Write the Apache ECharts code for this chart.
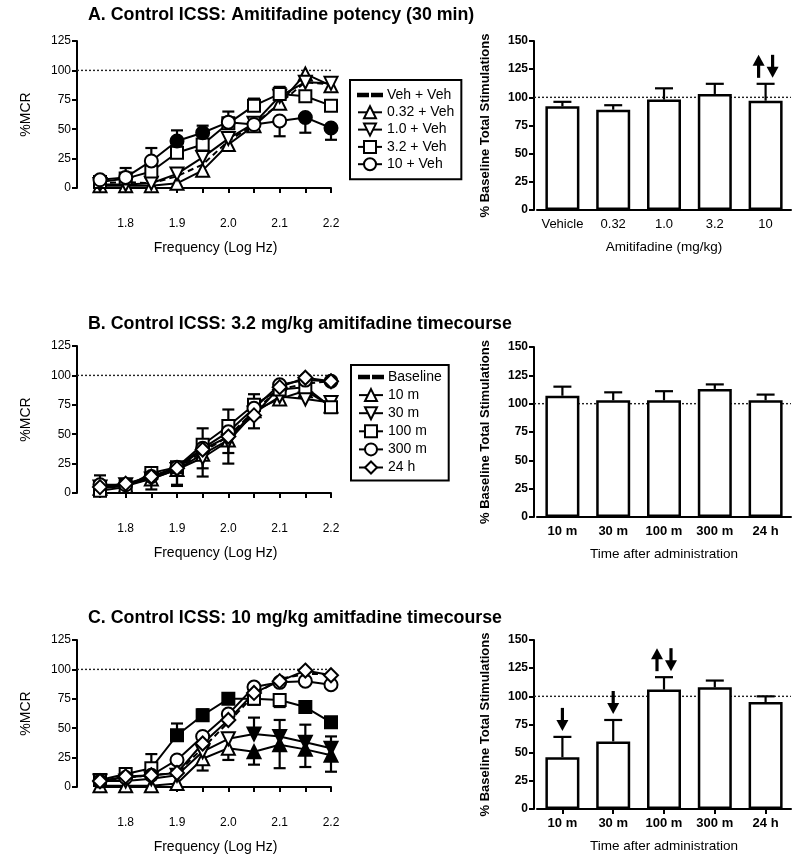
<!DOCTYPE html>
<html><head><meta charset="utf-8">
<script src="https://cdn.jsdelivr.net/npm/echarts@6/dist/echarts.min.js"></script>
<style>html,body{margin:0;padding:0;background:#fff}#c{width:800px;height:863px}</style>
</head><body><div id="c"></div>
<script>
// ---------------- DATA ----------------
const freqs = [1.75, 1.8, 1.85, 1.9, 1.95, 2.0, 2.05, 2.1, 2.15, 2.2];
const freqTickLabels = ['1.8', '1.9', '2.0', '2.1', '2.2'];

// Panel A: amitifadine potency (%MCR)
const aVehVeh = [4, 5, 4, 10, 20, 40, 54, 72, 90, 88];
const a032 = [2, 2, 2, 4, 15, 37, 53, 72, 97, 87];
const a10 = [3, 3, 4, 12, 26, 42, 55, 78, 90, 89];
const a32 = [5, 8, 14, 30, 37, 55, 70, 80, 78, 70];
const a100 = [7, 9, 23, 40, 47, 56, 54, 57, 60, 51];
const a100Filled = [3, 4, 8, 9];
// SEM: positive = drawn above the point, negative = drawn below
const a032Err = [0, 0, 0, 0, 0, 0, 0, 0, 0, 6];
const a32Err = [0, 9, 0, 0, 0, 10, 6, 6, 0, 0];
const a100Err = [0, 0, 11, 9, 6, 0, 0, -13, -13, -10];

// Panel B: 3.2 mg/kg timecourse
const bBase = [5, 7, 13, 21, 35, 48, 70, 88, 93, 95];
const b10m = [4, 6, 12, 20, 33, 45, 70, 80, 87, 74];
const b30m = [5, 7, 12, 20, 30, 44, 68, 82, 80, 77];
const b100m = [2, 5, 17, 22, 41, 57, 75, 88, 90, 73];
const b300m = [7, 7, 14, 22, 38, 52, 72, 92, 96, 95];
const b24h = [5, 8, 14, 21, 37, 48, 66, 90, 98, 95];
const b10mErr = [0, 0, 0, -13, -12, -20, 0, 0, 0, 0];
const b30mErr = [0, 0, -9, -14, -16, -10, 0, 0, 0, 0];
const b100mErr = [0, 0, 0, 0, 14, 14, 9, 0, 0, 0];
const b300mErr = [8, 0, 0, 0, 0, 0, 0, 0, 0, 0];
const b24hErr = [0, 0, 0, 0, 0, 0, -11, 0, 0, 0];

// Panel C: 10 mg/kg timecourse
const cBase = [5, 8, 10, 12, 33, 55, 78, 92, 96, 96];
const c10m = [1, 1, 1, 3, 24, 33, 30, 36, 32, 27];
const c30m = [5, 5, 7, 10, 30, 41, 45, 43, 38, 33];
const c100m = [6, 11, 16, 44, 61, 75, 75, 74, 68, 55];
const c300m = [5, 8, 10, 23, 43, 62, 85, 89, 90, 87];
const c24h = [5, 9, 10, 12, 37, 57, 80, 90, 99, 95];
const c10mFilled = [6, 7, 8, 9];
const c30mFilled = [6, 7, 8, 9];
const c100mFilled = [3, 4, 5, 8, 9];
const c10mErr = [0, 0, 0, 0, -10, -10, -11, -20, -15, -14];
const c30mErr = [0, 0, 0, 0, 0, 0, 14, 14, 15, 10];
const c100mErr = [0, 0, 12, 10, 5, 0, -5, -6, 0, 0];

// Bar charts: % baseline total stimulations
const doseCats = ['Vehicle', '0.32', '1.0', '3.2', '10'];
const timeCats = ['10 m', '30 m', '100 m', '300 m', '24 h'];
const barAVals = [92, 89, 98, 103, 97];
const barAErr = [4, 4, 10, 9, 15];
const barBVals = [107, 103, 103, 113, 103];
const barBErr = [8, 7, 8, 4, 5];
const barCVals = [46, 60, 106, 108, 95];
const barCErr = [18, 19, 11, 6, 5];
// significance arrows: category, direction(s)
const arrowsA = [['10', 'updown']];
const arrowsC = [['10 m', 'down'], ['30 m', 'down'], ['100 m', 'updown']];

// ---------------- BUILD ----------------
const FONT = '"Liberation Sans", Arial, Helvetica, sans-serif';
const DASH_ICON = 'path://M0,0h10v2.4h-10z M14,0h10v2.4h-10z';
const grids = [], xAxes = [], yAxes = [], series = [];

function refLine(xi, yi) {
  series.push({type: 'line', xAxisIndex: xi, yAxisIndex: yi, data: [[0, 100], [1, 100]],
    symbol: 'none', silent: true, z: 1, lineStyle: {color: '#222', width: 1.4, type: [2, 2]}});
}

function errRender(capW) {
  return function (params, api) {
    const x = api.value(0), y = api.value(1), e = api.value(2);
    const p0 = api.coord([x, y]), p1 = api.coord([x, y + e]);
    return {type: 'group', children: [
      {type: 'line', shape: {x1: p0[0], y1: p0[1], x2: p1[0], y2: p1[1]}, style: {stroke: '#000', lineWidth: 2.2}},
      {type: 'line', shape: {x1: p1[0] - capW / 2, y1: p1[1], x2: p1[0] + capW / 2, y2: p1[1]}, style: {stroke: '#000', lineWidth: 2.2}}
    ]};
  };
}

function addLinePanel(top, defs) {
  const gi = grids.length, xi = xAxes.length, yi = yAxes.length;
  grids.push({left: 100, top: top, width: 231, height: 147});
  grids.push({left: 77, top: top, width: 254, height: 147});
  xAxes.push({gridIndex: gi, type: 'value', min: 1.75, max: 2.2, interval: 0.05, offset: 24,
    name: 'Frequency (Log Hz)', nameLocation: 'middle', nameGap: 29,
    nameTextStyle: {fontSize: 14, color: '#000', fontFamily: FONT},
    axisLine: {lineStyle: {color: '#000', width: 2}},
    axisTick: {length: 5, lineStyle: {color: '#000', width: 2}},
    splitLine: {show: false},
    axisLabel: {margin: 6, fontSize: 12, color: '#000', fontFamily: FONT,
      formatter: v => { const l = freqTickLabels.find(t => Math.abs(parseFloat(t) - v) < 1e-6); return l || ''; }}});
  yAxes.push({gridIndex: gi, type: 'value', min: 0, max: 125, interval: 25, offset: 23,
    name: '%MCR', nameLocation: 'middle', nameGap: 44,
    nameTextStyle: {fontSize: 14, color: '#000', fontFamily: FONT},
    axisLine: {show: true, lineStyle: {color: '#000', width: 2}},
    axisTick: {show: true, length: 5, lineStyle: {color: '#000', width: 2}},
    splitLine: {show: false},
    axisLabel: {margin: 6, fontSize: 12, color: '#000', fontFamily: FONT}});
  xAxes.push({gridIndex: gi + 1, type: 'value', min: 0, max: 1, show: false});
  yAxes.push({gridIndex: gi + 1, type: 'value', min: 0, max: 125, show: false});
  refLine(xi + 1, yi + 1);
  defs.forEach(d => {
    if (d.err) {
      series.push({type: 'custom', name: '_err', xAxisIndex: xi, yAxisIndex: yi, z: 2, silent: true,
        renderItem: errRender(12),
        data: freqs.map((f, i) => [f, d.vals[i], d.err[i]]).filter(r => r[2] !== 0)});
    }
    series.push({name: d.name, type: 'line', xAxisIndex: xi, yAxisIndex: yi, z: 3,
      symbol: d.symbol || 'none', symbolSize: d.size || 13, symbolRotate: d.rotate || 0,
      showSymbol: !!d.symbol,
      lineStyle: {color: '#000', width: 2, type: d.dashed ? [6, 4] : 'solid'},
      itemStyle: {color: d.dashed ? '#000' : '#fff', borderColor: '#000', borderWidth: 2},
      data: freqs.map((f, i) => {
        const o = {value: [f, d.vals[i]]};
        if (d.filled && d.filled.includes(i)) o.itemStyle = {color: '#000', borderColor: '#000'};
        return o;
      })});
  });
}

function addBarPanel(top, h, cats, vals, errs, arrows, xName, opts) {
  const gi = grids.length, xi = xAxes.length, yi = yAxes.length;
  grids.push({left: 537, top: top, width: 254, height: h});
  grids.push({left: 534, top: top, width: 257, height: h});
  xAxes.push({gridIndex: gi, type: 'category', data: cats,
    name: xName, nameLocation: 'middle', nameGap: 30,
    nameTextStyle: {fontSize: 13.5, color: '#000', fontFamily: FONT},
    axisLine: {lineStyle: {color: '#000', width: 2}},
    axisTick: {show: opts.ticks, alignWithLabel: true, length: 5, lineStyle: {color: '#000', width: 2}},
    axisLabel: {interval: 0, margin: 8, fontSize: 13, color: '#000', fontFamily: FONT, fontWeight: opts.boldX ? 'bold' : 'normal'}});
  yAxes.push({gridIndex: gi, type: 'value', min: 0, max: 150, interval: 25, offset: 3,
    name: '% Baseline Total Stimulations', nameLocation: 'middle', nameGap: 42,
    nameTextStyle: {fontSize: 13, fontWeight: 'bold', color: '#000', fontFamily: FONT},
    axisLine: {show: true, lineStyle: {color: '#000', width: 2}},
    axisTick: {show: true, length: 5, lineStyle: {color: '#000', width: 2}},
    splitLine: {show: false},
    axisLabel: {margin: 6, fontSize: 12, fontWeight: 'bold', color: '#000', fontFamily: FONT}});
  xAxes.push({gridIndex: gi + 1, type: 'value', min: 0, max: 1, show: false});
  yAxes.push({gridIndex: gi + 1, type: 'value', min: 0, max: 150, show: false});
  refLine(xi + 1, yi + 1);
  series.push({type: 'bar', xAxisIndex: xi, yAxisIndex: yi, data: vals, barWidth: 34, z: 2,
    itemStyle: {color: '#fff', borderColor: '#000', borderWidth: 2.5}});
  series.push({type: 'custom', xAxisIndex: xi, yAxisIndex: yi, z: 4, silent: true,
    renderItem: errRender(18), data: vals.map((v, i) => [i, v, errs[i]])});
  if (arrows.length) {
    series.push({type: 'custom', xAxisIndex: xi, yAxisIndex: yi, z: 5, silent: true,
      data: arrows.map(a => { const i = cats.indexOf(a[0]); return [i, vals[i] + errs[i], a[1] === 'updown' ? 2 : 1]; }),
      renderItem: function (params, api) {
        const p = api.coord([api.value(0), api.value(1)]);
        const yb = p[1] - 6, yt = yb - 23;
        const arrow = (x, up) => {
          const tip = up ? yt : yb, tail = up ? yb : yt, d = up ? 1 : -1;
          return [
            {type: 'line', shape: {x1: x, y1: tail, x2: x, y2: tip + d * 8}, style: {stroke: '#000', lineWidth: 3.2}},
            {type: 'polygon', shape: {points: [[x, tip], [x - 6, tip + d * 11], [x + 6, tip + d * 11]]}, style: {fill: '#000'}}
          ];
        };
        const ch = api.value(2) === 2 ? arrow(p[0] - 7, true).concat(arrow(p[0] + 7, false)) : arrow(p[0], false);
        return {type: 'group', children: ch};
      }});
  }
}

addLinePanel(41, [
  {name: 'Veh + Veh', vals: aVehVeh, dashed: true},
  {name: '0.32 + Veh', vals: a032, symbol: 'triangle', err: a032Err},
  {name: '1.0 + Veh', vals: a10, symbol: 'triangle', rotate: 180},
  {name: '3.2 + Veh', vals: a32, symbol: 'rect', size: 12, err: a32Err},
  {name: '10 + Veh', vals: a100, symbol: 'circle', filled: a100Filled, err: a100Err}
]);
addBarPanel(41, 169, doseCats, barAVals, barAErr, arrowsA, 'Amitifadine (mg/kg)', {ticks: false, boldX: false});

addLinePanel(346, [
  {name: 'Baseline', vals: bBase, dashed: true},
  {name: '10 m', vals: b10m, symbol: 'triangle', err: b10mErr},
  {name: '30 m', vals: b30m, symbol: 'triangle', rotate: 180, err: b30mErr},
  {name: '100 m', vals: b100m, symbol: 'rect', size: 12, err: b100mErr},
  {name: '300 m', vals: b300m, symbol: 'circle', err: b300mErr},
  {name: '24 h', vals: b24h, symbol: 'diamond', size: 14, err: b24hErr}
]);
addBarPanel(347, 170, timeCats, barBVals, barBErr, [], 'Time after administration', {ticks: false, boldX: true});

addLinePanel(640, [
  {name: 'Baseline', vals: cBase, dashed: true},
  {name: '10 m', vals: c10m, symbol: 'triangle', filled: c10mFilled, err: c10mErr},
  {name: '30 m', vals: c30m, symbol: 'triangle', rotate: 180, filled: c30mFilled, err: c30mErr},
  {name: '100 m', vals: c100m, symbol: 'rect', size: 12, filled: c100mFilled, err: c100mErr},
  {name: '300 m', vals: c300m, symbol: 'circle'},
  {name: '24 h', vals: c24h, symbol: 'diamond', size: 14}
]);
addBarPanel(640, 169, timeCats, barCVals, barCErr, arrowsC, 'Time after administration', {ticks: true, boldX: true});

const legendCommon = {orient: 'vertical', borderColor: '#000', borderWidth: 2, itemWidth: 24, itemHeight: 15,
  selectedMode: false, textStyle: {fontSize: 14, color: '#000', fontFamily: FONT}};

const option = {
  animation: false,
  backgroundColor: '#fff',
  title: [
    {text: 'A. Control ICSS: Amitifadine potency (30 min)', left: 88, top: 6},
    {text: 'B. Control ICSS: 3.2 mg/kg amitifadine timecourse', left: 88, top: 315},
    {text: 'C. Control ICSS: 10 mg/kg amitfadine timecourse', left: 88, top: 609}
  ].map(t => Object.assign(t, {padding: 0, textStyle: {fontSize: 17.8, fontWeight: 'bold', color: '#000', fontFamily: FONT}})),
  legend: [
    Object.assign({}, legendCommon, {left: 350, top: 80, padding: [8, 7, 8, 7], itemGap: 3.3,
      data: [{name: 'Veh + Veh', icon: DASH_ICON}, '0.32 + Veh', '1.0 + Veh', '3.2 + Veh', '10 + Veh']}),
    Object.assign({}, legendCommon, {left: 351, top: 365, padding: [5, 7, 6, 7], itemGap: 4.1,
      data: [{name: 'Baseline', icon: DASH_ICON}, '10 m', '30 m', '100 m', '300 m', '24 h']})
  ],
  grid: grids, xAxis: xAxes, yAxis: yAxes, series: series
};
const chart = echarts.init(document.getElementById('c'));
chart.setOption(option);
</script></body></html>
